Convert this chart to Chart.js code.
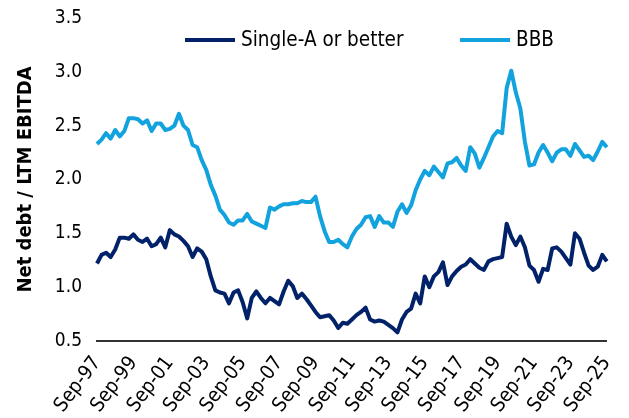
<!DOCTYPE html>
<html>
<head>
<meta charset="utf-8">
<script src="https://cdn.jsdelivr.net/npm/chart.js@4.4.1/dist/chart.umd.min.js"></script>
<style>
  html, body { margin: 0; padding: 0; background: #fff; }
</style>
</head>
<body>
<canvas id="chart" width="629" height="418"></canvas>
<script>
// quarterly, Sep-97 .. Sep-25
var tickLabels = ["Sep-97", "Sep-99", "Sep-01", "Sep-03", "Sep-05", "Sep-07", "Sep-09",
  "Sep-11", "Sep-13", "Sep-15", "Sep-17", "Sep-19", "Sep-21", "Sep-23", "Sep-25"];

var singleA = [
  1.22, 1.30, 1.32, 1.28, 1.35, 1.46, 1.46, 1.45, 1.49, 1.44,
  1.42, 1.45, 1.38, 1.40, 1.46, 1.37, 1.53, 1.49, 1.47, 1.43,
  1.38, 1.28, 1.36, 1.33, 1.26, 1.10, 0.97, 0.95, 0.94, 0.85,
  0.95, 0.97, 0.86, 0.71, 0.90, 0.96, 0.90, 0.85, 0.90, 0.87,
  0.84, 0.96, 1.06, 1.01, 0.90, 0.94, 0.89, 0.83, 0.77, 0.72,
  0.73, 0.74, 0.69, 0.62, 0.67, 0.66, 0.70, 0.74, 0.77, 0.81,
  0.70, 0.68, 0.69, 0.68, 0.65, 0.62, 0.58, 0.70, 0.77, 0.80,
  0.94, 0.85, 1.10, 1.00, 1.10, 1.14, 1.23, 1.02, 1.10, 1.15,
  1.19, 1.21, 1.26, 1.22, 1.18, 1.16, 1.24, 1.26, 1.27, 1.28,
  1.59, 1.47, 1.39, 1.47, 1.37, 1.20, 1.16, 1.05, 1.17, 1.16,
  1.36, 1.37, 1.33, 1.27, 1.21, 1.50, 1.45, 1.32, 1.20, 1.16,
  1.19, 1.30, 1.24
];

var bbb = [
  2.33, 2.37, 2.43, 2.38, 2.46, 2.40, 2.45, 2.57, 2.57, 2.56,
  2.52, 2.55, 2.45, 2.52, 2.52, 2.46, 2.47, 2.50, 2.61, 2.50,
  2.46, 2.32, 2.30, 2.18, 2.09, 1.95, 1.85, 1.72, 1.67, 1.60,
  1.58, 1.62, 1.62, 1.68, 1.61, 1.59, 1.57, 1.55, 1.74, 1.72,
  1.75, 1.77, 1.77, 1.78, 1.78, 1.80, 1.79, 1.79, 1.84, 1.66,
  1.52, 1.42, 1.42, 1.44, 1.40, 1.37, 1.47, 1.54, 1.58, 1.65,
  1.66, 1.56, 1.66, 1.60, 1.60, 1.56, 1.70, 1.77, 1.69, 1.76,
  1.90, 2.00, 2.08, 2.04, 2.12, 2.07, 2.02, 2.15, 2.16, 2.20,
  2.13, 2.08, 2.30, 2.24, 2.11, 2.20, 2.30, 2.40, 2.45, 2.43,
  2.85, 3.01, 2.81, 2.66, 2.35, 2.13, 2.14, 2.25, 2.32, 2.25,
  2.17, 2.25, 2.28, 2.28, 2.22, 2.33, 2.27, 2.21, 2.22, 2.18,
  2.26, 2.35, 2.30
];

var months = ["Sep", "Dec", "Mar", "Jun"];
var labels = [];
for (var i = 0; i < singleA.length; i++) {
  var yr = (97 + Math.floor((i + 1) / 4)) % 100;
  labels.push(months[i % 4] + "-" + (yr < 10 ? "0" + yr : yr));
}

var FONT = "'Liberation Sans Narrow', 'DejaVu Sans Condensed', sans-serif";
var navy = "#012169";
var sky = "#12a2dd";

// legend sits inside the plot, so draw it by hand
var legendInPlot = {
  id: "legendInPlot",
  afterDraw: function (chart) {
    var ctx = chart.ctx;
    var items = [
      { x: 185, ds: chart.data.datasets[0] },
      { x: 460, ds: chart.data.datasets[1] }
    ];
    ctx.save();
    ctx.font = "20.5px " + FONT;
    ctx.textBaseline = "middle";
    items.forEach(function (it) {
      ctx.strokeStyle = it.ds.borderColor;
      ctx.lineWidth = 4;
      ctx.beginPath();
      ctx.moveTo(it.x, 40);
      ctx.lineTo(it.x + 50, 40);
      ctx.stroke();
      ctx.fillStyle = "#000";
      ctx.fillText(it.ds.label, it.x + 56, 41);
    });
    ctx.restore();
  }
};

new Chart(document.getElementById("chart"), {
  type: "line",
  data: {
    labels: labels,
    datasets: [
      { label: "Single-A or better", data: singleA, borderColor: navy, borderWidth: 4,
        pointRadius: 0, tension: 0, borderJoinStyle: "round" },
      { label: "BBB", data: bbb, borderColor: sky, borderWidth: 4,
        pointRadius: 0, tension: 0, borderJoinStyle: "round" }
    ]
  },
  options: {
    responsive: false,
    animation: false,
    layout: { padding: { top: 18, right: 16, left: 0, bottom: 0 } },
    plugins: {
      legend: { display: false },
      tooltip: { enabled: false }
    },
    scales: {
      x: {
        grid: { display: false },
        border: { display: true, color: "#333", width: 2 },
        afterFit: function (scale) { scale.height = 77; },
        ticks: {
          autoSkip: false,
          maxRotation: 53,
          minRotation: 53,
          padding: 3,
          color: "#000",
          font: { family: FONT, size: 20 },
          callback: function (v, idx) {
            var l = labels[idx];
            return tickLabels.indexOf(l) >= 0 ? l : "";
          }
        }
      },
      y: {
        min: 0.5,
        max: 3.5,
        // invisible tick marks only push the labels away from the plot
        grid: { display: true, drawOnChartArea: false, drawTicks: true, tickLength: 12, tickColor: "rgba(0,0,0,0)" },
        border: { display: false },
        afterFit: function (scale) { scale.width = 97; },
        ticks: {
          stepSize: 0.5,
          padding: 3,
          color: "#000",
          font: { family: FONT, size: 19 },
          callback: function (v) { return v.toFixed(1); }
        },
        title: {
          display: true,
          text: "Net debt / LTM EBITDA",
          color: "#000",
          font: { family: FONT, size: 20, weight: "bold" },
          padding: { top: 14, bottom: 0 }
        }
      }
    }
  },
  plugins: [legendInPlot]
});
</script>
</body>
</html>
